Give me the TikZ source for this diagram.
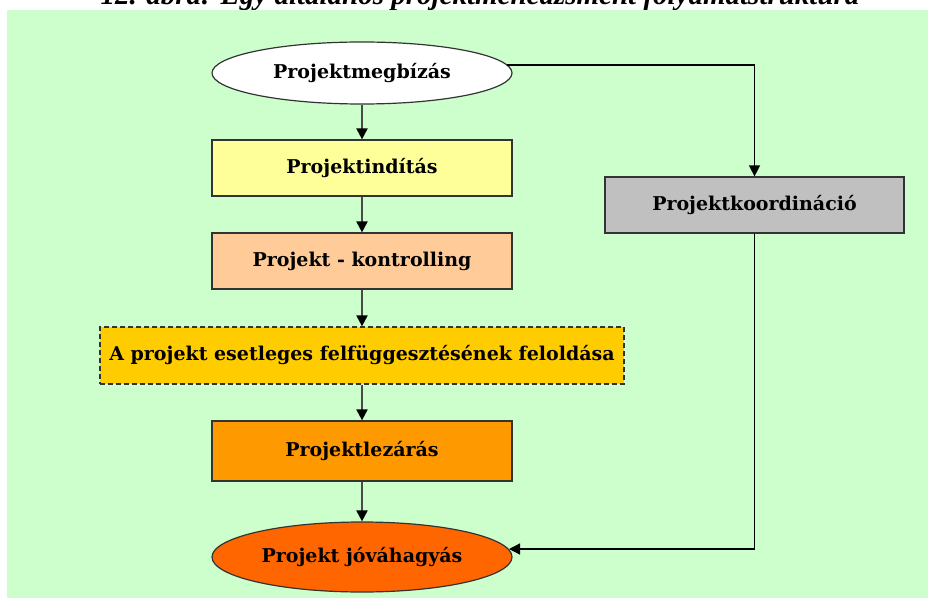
\documentclass[tikz,border=0pt]{standalone}
\usepackage{fontspec}
\setmainfont{DejaVu Serif}
\newfontfamily\captionfont{Liberation Serif}
\usetikzlibrary{shapes.geometric,arrows.meta,calc}
\definecolor{bggreen}{HTML}{CCFFCC}
\definecolor{fillstart}{HTML}{FFFF99}
\definecolor{fillcontrol}{HTML}{FFCC99}
\definecolor{fillresume}{HTML}{FFCC00}
\definecolor{fillclose}{HTML}{FF9900}
\definecolor{fillapprove}{HTML}{FF6600}
\definecolor{fillcoord}{HTML}{C0C0C0}
\definecolor{flowline}{HTML}{4A4A4A}
\tikzset{
  boxtext/.style={font=\bfseries\fontsize{19}{22}\selectfont, text=black, align=center, inner sep=0pt},
  stepbox/.style={boxtext, rectangle, draw=black!80, line width=1.2pt, minimum width=300pt, minimum height=56pt},
  oval/.style={boxtext, ellipse, draw=black!80, line width=1.2pt, minimum width=300pt},
  flow/.style={draw=flowline, line width=2pt, -{Triangle[length=11pt,width=11pt,color=black]}},
  side/.style={draw=black, line width=1.3pt, -{Triangle[length=11pt,width=11pt]}},
}
\begin{document}
\begin{tikzpicture}[x=1pt,y=-1pt]
  \useasboundingbox (0,0) rectangle (928,601);
  \fill[white] (0,0) rectangle (928,601);
  % caption above the frame, partly cut by the page edge
  \node[anchor=base, inner sep=0pt, font=\captionfont\bfseries\itshape\fontsize{29}{32}\selectfont] (caption) at (480,5)
    {12. ábra: Egy általános projektmenedzsment folyamatstruktúra};
  \fill[bggreen] (7,10) rectangle (928,598);

  \node[oval, fill=white, minimum height=62pt] (order) at (362,73) {Projektmegbízás};
  \node[stepbox, fill=fillstart] (start) at (362,168) {Projektindítás};
  \node[stepbox, fill=fillcontrol] (control) at (362,261) {Projekt - kontrolling};
  \node[stepbox, fill=fillresume, dash pattern=on 5pt off 3pt, minimum width=524pt, minimum height=57pt] (resume) at (362,355.5)
    {A projekt esetleges felfüggesztésének feloldása};
  \node[stepbox, fill=fillclose, minimum height=60pt] (close) at (362,451) {Projektlezárás};
  \node[oval, fill=fillapprove, minimum height=70pt] (approve) at (362,557) {Projekt jóváhagyás};
  \node[stepbox, fill=fillcoord, minimum width=299pt] (coord) at (754.5,205) {Projektkoordináció};

  % points on the two ovals where the side line meets them
  \coordinate (orderexit) at ($(order.center)+(145,-8)$);
  \coordinate (approveentry) at ($(approve.center)+(147,-8)$);

  \draw[flow] (order) -- (start);
  \draw[flow] (start) -- (control);
  \draw[flow] (control) -- (resume);
  \draw[flow] (resume) -- (close);
  \draw[flow] (close) -- (approve);
  \draw[side] (orderexit) -| (coord.north);
  \draw[side] (coord.south) |- (approveentry);
\end{tikzpicture}
\end{document}
